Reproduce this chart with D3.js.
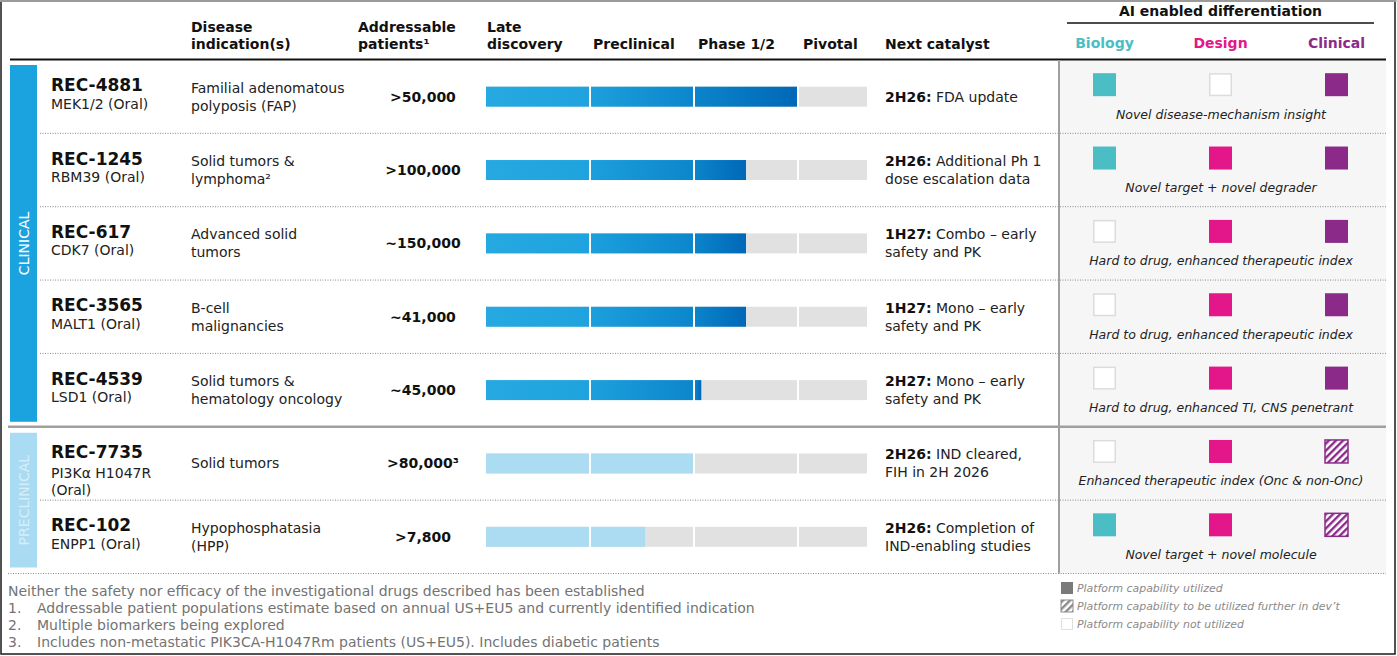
<!DOCTYPE html>
<html><head><meta charset="utf-8">
<script src="https://cdn.jsdelivr.net/npm/d3@7"></script>
<style>
html,body{margin:0;padding:0;background:#fff;}
svg{display:block;font-family:"DejaVu Sans",Verdana,sans-serif;}
</style></head>
<body><svg id="chart" width="1397" height="656"></svg>
<script>
// ---------- data ----------
const drugs = ["REC-4881","REC-1245","REC-617","REC-3565","REC-4539","REC-7735","REC-102"];
const targets = [["MEK1/2 (Oral)"],["RBM39 (Oral)"],["CDK7 (Oral)"],["MALT1 (Oral)"],["LSD1 (Oral)"],["PI3Kα H1047R","(Oral)"],["ENPP1 (Oral)"]];
const indications = [["Familial adenomatous","polyposis (FAP)"],["Solid tumors &","lymphoma²"],["Advanced solid","tumors"],["B-cell","malignancies"],["Solid tumors &","hematology oncology"],["Solid tumors"],["Hypophosphatasia","(HPP)"]];
const patients = [">50,000",">100,000","~150,000","~41,000","~45,000",">80,000³",">7,800"];
const stages = ["Late discovery","Preclinical","Phase 1/2","Pivotal"];
const progress = [3.0,2.5,2.5,2.5,2.07,2.0,1.53];
const groups = ["CLINICAL","CLINICAL","CLINICAL","CLINICAL","CLINICAL","PRECLINICAL","PRECLINICAL"];
const catalystWhen = ["2H26:","2H26:","1H27:","1H27:","2H27:","2H26:","2H26:"];
const catalystWhat = [["FDA update"],["Additional Ph 1","dose escalation data"],["Combo – early","safety and PK"],["Mono – early","safety and PK"],["Mono – early","safety and PK"],["IND cleared,","FIH in 2H 2026"],["Completion of","IND-enabling studies"]];
const aiColumns = ["Biology","Design","Clinical"];
const aiBiology = ["full","full","empty","empty","empty","empty","full"];
const aiDesign = ["empty","full","full","full","full","full","full"];
const aiClinical = ["full","full","full","full","full","hatch","hatch"];
const aiNotes = ["Novel disease-mechanism insight","Novel target + novel degrader","Hard to drug, enhanced therapeutic index","Hard to drug, enhanced therapeutic index","Hard to drug, enhanced TI, CNS penetrant","Enhanced therapeutic index (Onc & non-Onc)","Novel target + novel molecule"];
const footnotes = ["Neither the safety nor efficacy of the investigational drugs described has been established","Addressable patient populations estimate based on annual US+EU5 and currently identified indication","Multiple biomarkers being explored","Includes non-metastatic PIK3CA-H1047Rm patients (US+EU5). Includes diabetic patients"];
const legendItems = [["full","Platform capability utilized"],["hatch","Platform capability to be utilized further in dev’t"],["empty","Platform capability not utilized"]];

// ---------- setup ----------
const svg = d3.select("#chart");
const defs = svg.append("defs");
const aiColors = {Biology:"#4bbdc4", Design:"#e3168a", Clinical:"#8b2a88"};

function lg(id, c1, c2){
  const g = defs.append("linearGradient").attr("id",id).attr("x1","0").attr("x2","1").attr("y1","0").attr("y2","0");
  g.append("stop").attr("offset","0").attr("stop-color",c1);
  g.append("stop").attr("offset","1").attr("stop-color",c2);
}
lg("g0","#26a9e1","#1fa3de");
lg("g1","#1c9fdc","#0c86cc");
lg("g2","#0b84ca","#0068b8");
lg("g3","#0b84ca","#0068b8");
function hatch(id,color){
  const p = defs.append("pattern").attr("id",id).attr("patternUnits","userSpaceOnUse")
    .attr("width",5).attr("height",5).attr("patternTransform","rotate(45)");
  p.append("rect").attr("width",5).attr("height",5).attr("fill","#fff");
  p.append("rect").attr("width",2.4).attr("height",5).attr("fill",color);
}
aiColumns.forEach(c=>hatch("h"+c,aiColors[c]));
hatch("hLegend","#8a8a8a");

// scales
const x = d3.scaleLinear().domain([0,1,2,3,4]).range([486,590,694,798,868]);
const y = d3.scaleLinear().domain([0,7]).range([60,573.5]);
const aiX = d3.scalePoint().domain(aiColumns).range([1104.5,1336.5]);

// ---------- frame ----------
svg.append("rect").attr("x",1).attr("y",1).attr("width",1394).attr("height",653)
  .attr("fill","none").attr("stroke","#1a1a1a").attr("stroke-width",1.5);
svg.append("line").attr("x1",0).attr("x2",1397).attr("y1",1).attr("y2",1).attr("stroke","#b5b5b5").attr("stroke-width",1.5);

// AI panel bg
svg.append("rect").attr("x",1060).attr("y",y(0)).attr("width",326).attr("height",y(7)-y(0)).attr("fill","#f6f6f6");

// ---------- headers ----------
const hdr = svg.append("g").attr("font-weight","bold").attr("font-size",14).attr("fill","#111");
function ml(g, xx, yy, lines, dy){
  const t = g.append("text").attr("x",xx).attr("y",yy);
  lines.forEach((l,i)=>t.append("tspan").attr("x",xx).attr("dy", i===0?0:dy).text(l));
  return t;
}
ml(hdr,191,32,["Disease","indication(s)"],17);
ml(hdr,358,32,["Addressable","patients¹"],17);
hdr.append("text").attr("x",x(0)+1).attr("y",32).text("Late");
const hdrOffset = [1,3,4,5];
stages.forEach((s,i)=>{
  hdr.append("text").attr("x",x(i)+hdrOffset[i]).attr("y",49).text(i===0?"discovery":s);
});
hdr.append("text").attr("x",885).attr("y",49).text("Next catalyst");
hdr.append("text").attr("x",1220.5).attr("y",16).attr("text-anchor","middle").text("AI enabled differentiation");
svg.append("line").attr("x1",1067).attr("x2",1374).attr("y1",23).attr("y2",23).attr("stroke","#111").attr("stroke-width",1.5);
aiColumns.forEach(c=>{
  hdr.append("text").attr("x",aiX(c)).attr("y",48).attr("text-anchor","middle").attr("fill",aiColors[c]).text(c);
});
svg.append("line").attr("x1",10).attr("x2",1386).attr("y1",59.5).attr("y2",59.5).attr("stroke","#111").attr("stroke-width",2.2);

// ---------- group bands ----------
const bandInfo = [["CLINICAL",0,5,"#1ba3df","#fff",1],["PRECLINICAL",5,7,"#a9dbf2","#fff",0.55]];
bandInfo.forEach(([lab,a,b,col,tc,op])=>{
  const top = y(a)+(a===0?5:6), bot = y(b)-(a===0?5:6);
  svg.append("rect").attr("x",10).attr("y",top).attr("width",27).attr("height",bot-top).attr("fill",col);
  svg.append("text").attr("transform",`translate(28.5,${(top+bot)/2}) rotate(-90)`)
    .attr("text-anchor","middle").attr("font-size",14).attr("fill",tc).attr("fill-opacity",op).text(lab);
});

// ---------- separators ----------
for(let i=1;i<7;i++){
  if(i===5){
    svg.append("line").attr("x1",8).attr("x2",1386).attr("y1",y(i)).attr("y2",y(i)).attr("stroke","#a0a0a0").attr("stroke-width",2.4);
  } else {
    svg.append("line").attr("x1",40).attr("x2",1386).attr("y1",y(i)).attr("y2",y(i)).attr("stroke","#8a8a8a").attr("stroke-width",1).attr("stroke-dasharray","1,1.5");
  }
}
svg.append("line").attr("x1",8).attr("x2",1386).attr("y1",y(7)).attr("y2",y(7)).attr("stroke","#8a8a8a").attr("stroke-width",1).attr("stroke-dasharray","1,1.5");
svg.append("line").attr("x1",1059).attr("x2",1059).attr("y1",y(0)).attr("y2",y(7)).attr("stroke","#a0a0a0").attr("stroke-width",2);

// ---------- rows ----------
drugs.forEach((d,i)=>{
  const c = (y(i)+y(i+1))/2;
  const g = svg.append("g");
  // name
  g.append("text").attr("x",51).attr("y",c-5.5).attr("font-size",17).attr("font-weight","bold").attr("fill","#111").text(d);
  const t = g.append("text").attr("x",51).attr("y",c+(targets[i].length>1?14.5:12)).attr("font-size",14).attr("fill","#222");
  targets[i].forEach((l,k)=>t.append("tspan").attr("x",51).attr("dy",k?17:0).text(l));
  // indication
  const ind = indications[i];
  const it = g.append("text").attr("x",191).attr("y", ind.length>1? c-4 : c+5).attr("font-size",14).attr("fill","#222");
  ind.forEach((l,k)=>it.append("tspan").attr("x",191).attr("dy",k?18:0).text(l));
  // patients
  g.append("text").attr("x",423).attr("y",c+5).attr("text-anchor","middle").attr("font-size",14).attr("font-weight","bold").attr("fill","#111").text(patients[i]);
  // bars
  const top = c-10, h = 20;
  const clinical = groups[i]==="CLINICAL";
  stages.forEach((s,k)=>{
    const x0 = x(k)+(k?1:0), x1 = x(k+1)-1;
    g.append("rect").attr("x",x0).attr("y",top).attr("width",x1-x0).attr("height",h).attr("fill","#e1e1e1");
    const p = Math.max(0,Math.min(1,progress[i]-k));
    if(p>0){
      const xe = p>=1 ? x1 : x(k)+(x(k+1)-x(k))*p;
      g.append("rect").attr("x",x0).attr("y",top).attr("width",xe-x0).attr("height",h)
        .attr("fill", clinical ? `url(#g${k})` : "#acdcf2");
    }
  });
  // catalyst
  const cw = catalystWhat[i];
  const ct = g.append("text").attr("x",885).attr("y", cw.length>1? c-4 : c+5).attr("font-size",14).attr("fill","#222");
  ct.append("tspan").attr("font-weight","bold").attr("fill","#111").text(catalystWhen[i]);
  ct.append("tspan").text(" "+cw[0]);
  if(cw.length>1) ct.append("tspan").attr("x",885).attr("dy",18).text(cw[1]);
  // AI squares
  const st = [aiBiology[i],aiDesign[i],aiClinical[i]];
  aiColumns.forEach((col,k)=>{
    const sx = aiX(col)-11.5, sy = c-23.5;
    const s = st[k];
    g.append("rect").attr("x",s==="empty"?sx+0.75:sx).attr("y",s==="empty"?sy+0.75:sy)
      .attr("width",s==="empty"?21.5:23).attr("height",s==="empty"?21.5:23)
      .attr("fill", s==="full"?aiColors[col] : s==="hatch"?`url(#h${col})`:"#fff")
      .attr("stroke", s==="empty"?"#dcdcdc": s==="hatch"?aiColors[col]:"none")
      .attr("stroke-width",1.5);
  });
  g.append("text").attr("x",1221).attr("y",c+22).attr("text-anchor","middle").attr("font-size",12.5)
    .attr("font-style","italic").attr("fill","#222").text(aiNotes[i]);
});

// ---------- footnotes ----------
const fn = svg.append("g").attr("font-size",14).attr("fill","#737373");
footnotes.forEach((f,i)=>{
  const yy = 596+i*17;
  if(i===0){ fn.append("text").attr("x",8).attr("y",yy).text(f); }
  else {
    fn.append("text").attr("x",8).attr("y",yy).text(i+".");
    fn.append("text").attr("x",37).attr("y",yy).text(f);
  }
});

// ---------- legend ----------
legendItems.forEach(([s,lab],i)=>{
  const yy = 582+i*18;
  svg.append("rect").attr("x",s==="empty"?1061.5:1061).attr("y",s==="empty"?yy+0.5:yy)
    .attr("width",s==="empty"?11:12).attr("height",s==="empty"?11:12)
    .attr("fill", s==="full"?"#7a7a7a": s==="hatch"?"url(#hLegend)":"#fff")
    .attr("stroke", s==="empty"?"#e0e0e0": s==="hatch"?"#8a8a8a":"none").attr("stroke-width",1);
  svg.append("text").attr("x",1077).attr("y",yy+10).attr("font-size",10.9).attr("font-style","italic").attr("fill","#8a8a8a").text(lab);
});
</script></body></html>
